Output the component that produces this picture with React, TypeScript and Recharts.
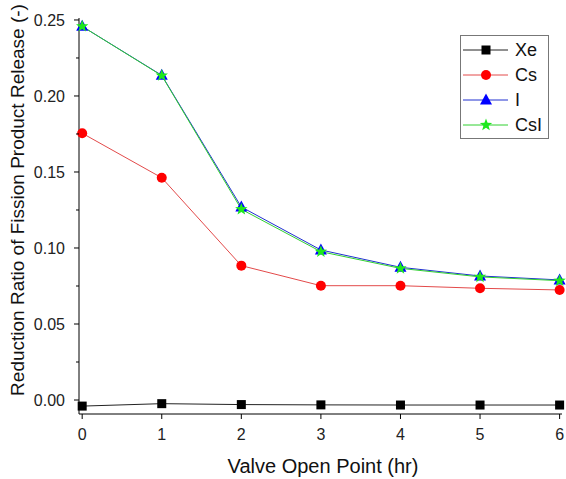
import React from 'react';
import { LineChart, Line, XAxis, YAxis, Legend, Label } from 'recharts';

const hours = [0, 1, 2, 3, 4, 5, 6];
const xe = [-0.004, -0.0024, -0.003, -0.0032, -0.0033, -0.0033, -0.0033];
const cs = [0.1755, 0.1462, 0.0884, 0.0752, 0.0752, 0.0735, 0.0724];
const iodine = [0.2458, 0.2136, 0.127, 0.0987, 0.0873, 0.0816, 0.079];
const csi = [0.2458, 0.2134, 0.1255, 0.0976, 0.0866, 0.081, 0.0785];

const xTicks = [0, 1, 2, 3, 4, 5, 6];
const yTicks = [0, 0.025, 0.05, 0.075, 0.1, 0.125, 0.15, 0.175, 0.2, 0.225, 0.25];

const seriesNames = ['Xe', 'Cs', 'I', 'CsI'];

const data = hours.map((h, i) => ({
  hr: h,
  Xe: xe[i],
  Cs: cs[i],
  I: iodine[i],
  CsI: csi[i],
}));

const FONT = '"Liberation Sans", Arial, sans-serif';

const Square = ({ cx, cy }: { cx: number; cy: number }) => (
  <rect x={cx - 4.5} y={cy - 4.5} width={9} height={9} fill="#000" />
);
const Circle = ({ cx, cy }: { cx: number; cy: number }) => (
  <circle cx={cx} cy={cy} r={5} fill="#ff0000" />
);
const Triangle = ({ cx, cy }: { cx: number; cy: number }) => (
  <polygon
    points={`${cx},${cy - 6.5} ${cx - 6},${cy + 4.5} ${cx + 6},${cy + 4.5}`}
    fill="#0000ff"
  />
);
const Star = ({ cx, cy }: { cx: number; cy: number }) => {
  const pts: string[] = [];
  for (let k = 0; k < 10; k++) {
    const r = k % 2 === 0 ? 6.5 : 2.7;
    const a = -Math.PI / 2 + (k * Math.PI) / 5;
    pts.push(`${cx + r * Math.cos(a)},${cy + r * Math.sin(a)}`);
  }
  return <polygon points={pts.join(' ')} fill="#1ee81e" />;
};

const markers: Record<string, any> = { Xe: Square, Cs: Circle, I: Triangle, CsI: Star };
const colors: Record<string, string> = { Xe: '#222', Cs: '#e34a4a', I: '#2030d0', CsI: '#30d030' };

const dotFor = (name: string) => (props: any) => {
  const M = markers[name];
  if (props.cx == null || props.cy == null) return <g key={`${name}-${props.index}`} />;
  return <M key={`${name}-${props.index}`} cx={props.cx} cy={props.cy} />;
};

const YTick = (props: any) => {
  const { x, y, payload } = props;
  const v = payload.value as number;
  const major = Math.abs(v / 0.05 - Math.round(v / 0.05)) < 1e-6;
  const ax = x + 14;
  return (
    <g>
      <line x1={ax} x2={ax - (major ? 5 : 3)} y1={y} y2={y} stroke="#000" />
      {major && (
        <text x={x} y={y} dy="0.36em" textAnchor="end" fontSize={16} fontFamily={FONT} fill="#222">
          {v.toFixed(2)}
        </text>
      )}
    </g>
  );
};

const LegendBox = () => (
  <svg width={89} height={104} style={{ display: 'block' }}>
    <rect x={0.5} y={0.5} width={88} height={103} fill="#fff" stroke="#777" />
    {seriesNames.map((name, i) => {
      const cy = 15 + i * 25;
      const M = markers[name];
      return (
        <g key={name}>
          <line x1={3} x2={48} y1={cy} y2={cy} stroke={colors[name]} strokeWidth={1} />
          <M cx={26} cy={cy} />
          <text x={55} y={cy} dy="0.36em" fontSize={18} fontFamily={FONT} fill="#111">
            {name}
          </text>
        </g>
      );
    })}
  </svg>
);

export default function App() {
  return (
    <div style={{ position: 'absolute', left: 0, top: 0, width: 566, height: 479, background: '#fff' }}>
      <LineChart
        width={566}
        height={479}
        data={data}
        margin={{ top: 18, right: 4, bottom: 0, left: 0 }}
        style={{ fontFamily: FONT }}
      >
        <XAxis
          dataKey="hr"
          type="number"
          domain={[-0.04, 6.03]}
          ticks={xTicks}
          interval={0}
          height={65}
          tickSize={5}
          tickMargin={10}
          stroke="#000"
          tick={{ fontSize: 16, fill: '#222', fontFamily: FONT }}
        >
          <Label
            content={() => (
              <text x={323} y={473} textAnchor="middle" fontSize={20} fontFamily={FONT} fill="#111">
                Valve Open Point (hr)
              </text>
            )}
          />
        </XAxis>
        <YAxis
          type="number"
          domain={[-0.0092, 0.2513]}
          ticks={yTicks}
          interval={0}
          width={79}
          tickSize={5}
          tickMargin={9}
          tickLine={false}
          stroke="#000"
          tick={<YTick />}
        >
          <Label
            content={() => (
              <text
                x={0}
                y={0}
                transform="translate(24,200) rotate(-90)"
                textAnchor="middle"
                fontSize={19}
                fontFamily={FONT}
                fill="#111"
              >
                Reduction Ratio of Fission Product Release (-)
              </text>
            )}
          />
        </YAxis>
        <Legend
          layout="vertical"
          align="center"
          verticalAlign="middle"
          wrapperStyle={{ left: 460, top: 35, width: 89, height: 104 }}
          content={() => <LegendBox />}
        />
        {seriesNames.map((name) => (
          <Line
            key={name}
            dataKey={name}
            type="linear"
            stroke={colors[name]}
            strokeWidth={1}
            dot={dotFor(name)}
            activeDot={false}
            isAnimationActive={false}
          />
        ))}
      </LineChart>
    </div>
  );
}
